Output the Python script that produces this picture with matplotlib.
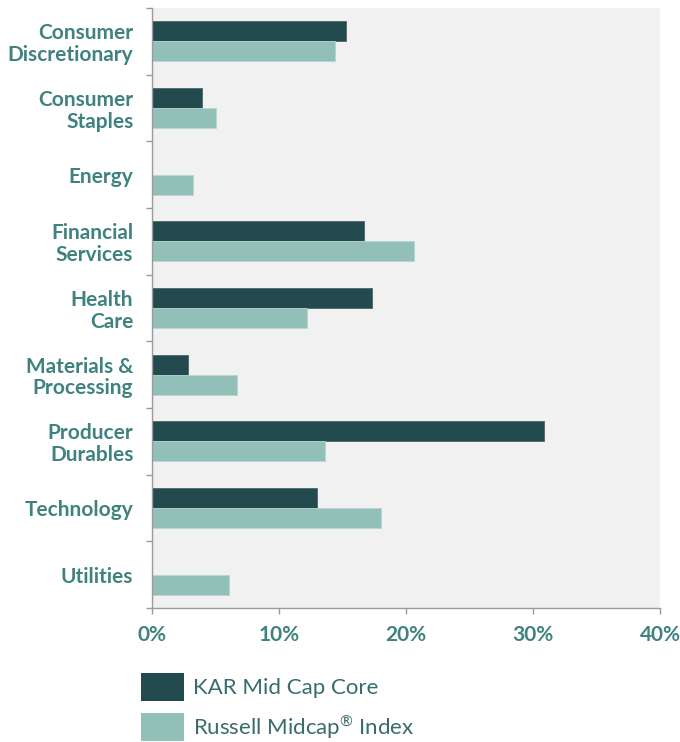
import matplotlib
matplotlib.use("Agg")
import matplotlib.pyplot as plt
import numpy as np

plt.rcParams["font.family"] = ["Lato", "DejaVu Sans"]
plt.rcParams["mathtext.fontset"] = "custom"
plt.rcParams["mathtext.rm"] = "Lato"

sectors = ["Consumer\nDiscretionary", "Consumer\nStaples", "Energy",
           "Financial\nServices", "Health\nCare", "Materials &\nProcessing",
           "Producer\nDurables", "Technology", "Utilities"]
kar = [15.3, 3.9, 0.0, 16.7, 17.3, 2.8, 30.9, 13.0, 0.0]
russell = [14.4, 5.0, 3.2, 20.6, 12.2, 6.7, 13.6, 18.0, 6.1]
xticks = [0, 10, 20, 30, 40]

dark = "#234a4e"
light = "#93bfb9"
label_col = "#3f8280"
axis_col = "#9a9a9a"

fig = plt.figure(figsize=(6.8, 7.42), dpi=100)
ax = fig.add_axes([152 / 680, 1 - 608 / 742, 508 / 680, 600 / 742])
ax.set_facecolor("#f1f1f1")

y = np.arange(len(sectors))
h = 0.3
ax.barh(y - h / 2, kar, height=h, color=dark, edgecolor="#4f6466", linewidth=0.6,
        label="KAR Mid Cap Core")
ax.barh(y + h / 2, russell, height=h, color=light, edgecolor="#b7d6d1", linewidth=0.6,
        label="Russell Midcap$^{\u00ae}$ Index")

ax.set_xlim(0, 40)
ax.set_ylim(len(sectors) - 0.5, -0.5)

ax.set_xticks(xticks)
ax.set_xticklabels([f"{t}%" for t in xticks])
ax.set_yticks(y)
ax.set_yticklabels(sectors, linespacing=1.1)
ax.set_yticks(np.arange(len(sectors) + 1) - 0.5, minor=True)

ax.tick_params(axis="y", which="major", length=0, pad=13.5,
               labelsize=15, labelcolor=label_col)
ax.tick_params(axis="y", which="minor", length=4.5, width=1, color=axis_col,
               direction="out")
ax.tick_params(axis="x", length=4.5, width=1, color=axis_col, pad=8,
               labelsize=15, labelcolor=label_col)
for lab in ax.get_yticklabels() + ax.get_xticklabels():
    lab.set_fontweight("bold")

for s in ["top", "right"]:
    ax.spines[s].set_visible(False)
for s in ["left", "bottom"]:
    ax.spines[s].set_color(axis_col)
    ax.spines[s].set_linewidth(1)

leg = fig.legend(loc="upper left", bbox_to_anchor=(141 / 680, 1 - 673 / 742),
                 frameon=False, fontsize=16, handlelength=1.94, handleheight=1.55,
                 labelspacing=0.55, handletextpad=0.4, borderpad=0, borderaxespad=0)
for t in leg.get_texts():
    t.set_color("#3a6c6c")
for p in leg.get_patches():
    p.set_linewidth(0)

fig.savefig("out.png", dpi=100)
